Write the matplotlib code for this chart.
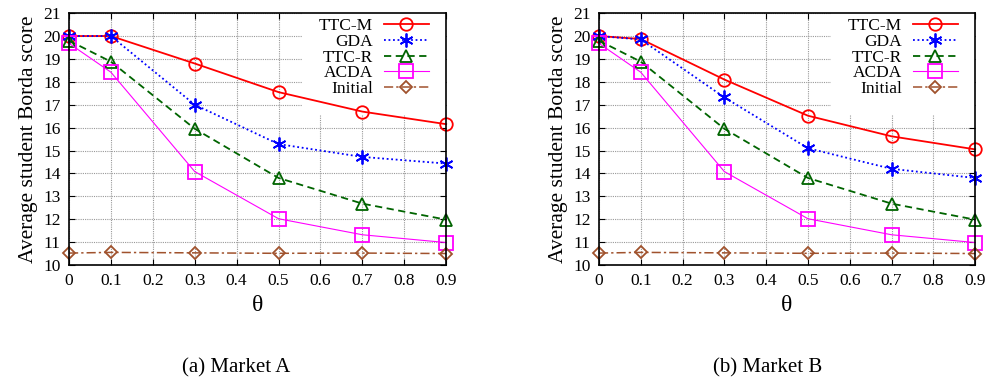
import numpy as np
import matplotlib
matplotlib.use('Agg')
import matplotlib.pyplot as plt

plt.rcParams['font.family'] = 'Liberation Serif'

theta = [0, 0.1, 0.3, 0.5, 0.7, 0.9]

# market A
ttcm_a = [20.0, 20.0, 18.8, 17.55, 16.7, 16.15]
gda_a = [20.0, 20.0, 17.0, 15.28, 14.72, 14.43]
ttcr_a = [19.8, 18.88, 15.95, 13.8, 12.68, 11.98]
acda_a = [19.68, 18.42, 14.08, 12.02, 11.32, 10.98]
init_a = [10.52, 10.55, 10.53, 10.51, 10.52, 10.5]

# market B
ttcm_b = [20.0, 19.87, 18.1, 16.52, 15.62, 15.05]
gda_b = [20.0, 19.85, 17.32, 15.1, 14.2, 13.8]
ttcr_b = [19.8, 18.88, 15.95, 13.8, 12.68, 11.98]
acda_b = [19.68, 18.42, 14.08, 12.02, 11.32, 10.98]
init_b = [10.52, 10.55, 10.53, 10.51, 10.52, 10.5]

xticks = [0, 0.1, 0.2, 0.3, 0.4, 0.5, 0.6, 0.7, 0.8, 0.9]
xticklabels = ['0', '0.1', '0.2', '0.3', '0.4', '0.5', '0.6', '0.7', '0.8', '0.9']
yticks = list(range(10, 22))

names = ['TTC-M', 'GDA', 'TTC-R', 'ACDA', 'Initial']
colors = ['#ff0000', '#0000ff', '#006400', '#ff00ff', '#a0522d']
markers = ['o', (6, 2, 0), '^', 's', 'D']
styles = ['-', (0, (1, 1.5)), (0, (4, 2.5)), '-', (0, (6, 2, 1.5, 2))]
widths = [1.3, 1.3, 1.3, 0.8, 1.1]
msizes = [9, 10, 9, 10, 6.5]

fig = plt.figure(figsize=(9.9, 3.81), dpi=100)
ax1 = fig.add_axes([0.0697, 0.3045, 0.381, 0.661])
ax2 = fig.add_axes([0.605, 0.3045, 0.38, 0.661])

for ax, series, cap, cx in [(ax1, [ttcm_a, gda_a, ttcr_a, acda_a, init_a], '(a) Market A', 0.239),
                             (ax2, [ttcm_b, gda_b, ttcr_b, acda_b, init_b], '(b) Market B', 0.775)]:
    ax.set_axisbelow(True)
    for y, n, c, m, ls, lw, ms in zip(series, names, colors, markers, styles, widths, msizes):
        ax.plot(theta, y, color=c, marker=m, linestyle=ls, linewidth=lw, markersize=ms,
                markerfacecolor='none', markeredgecolor=c, markeredgewidth=1.3, label=n, clip_on=False, zorder=3)
    ax.set_xlim(0, 0.9)
    ax.set_ylim(10, 21)
    ax.set_xticks(xticks)
    ax.set_xticklabels(xticklabels)
    ax.set_yticks(yticks)
    ax.tick_params(direction='in', top=True, right=True, labelsize=12.5, length=4, pad=6)
    ax.grid(True, color='#999999', linestyle=(0, (1, 1)), linewidth=0.8)
    for s in ax.spines.values():
        s.set_linewidth(1.2)
        s.set_zorder(5)
    ax.set_ylabel('Average student Borda score', fontsize=15.5, labelpad=4)
    ax.set_xlabel('\u03b8', fontsize=17, labelpad=4)
    leg = ax.legend(loc='upper right', bbox_to_anchor=(1.0, 1.05), markerfirst=False, frameon=True,
                    fontsize=12.5, handlelength=2.6, labelspacing=-0.02, borderaxespad=0.0, borderpad=1.0,
                    handletextpad=0.6, fancybox=False, framealpha=1.0)
    leg.get_frame().set_edgecolor('none')
    leg.get_frame().set_facecolor('white')
    leg.set_zorder(2)
    fig.text(cx, 0.035, cap, ha='center', va='center', fontsize=15)

fig.savefig('out.png', dpi=100)
